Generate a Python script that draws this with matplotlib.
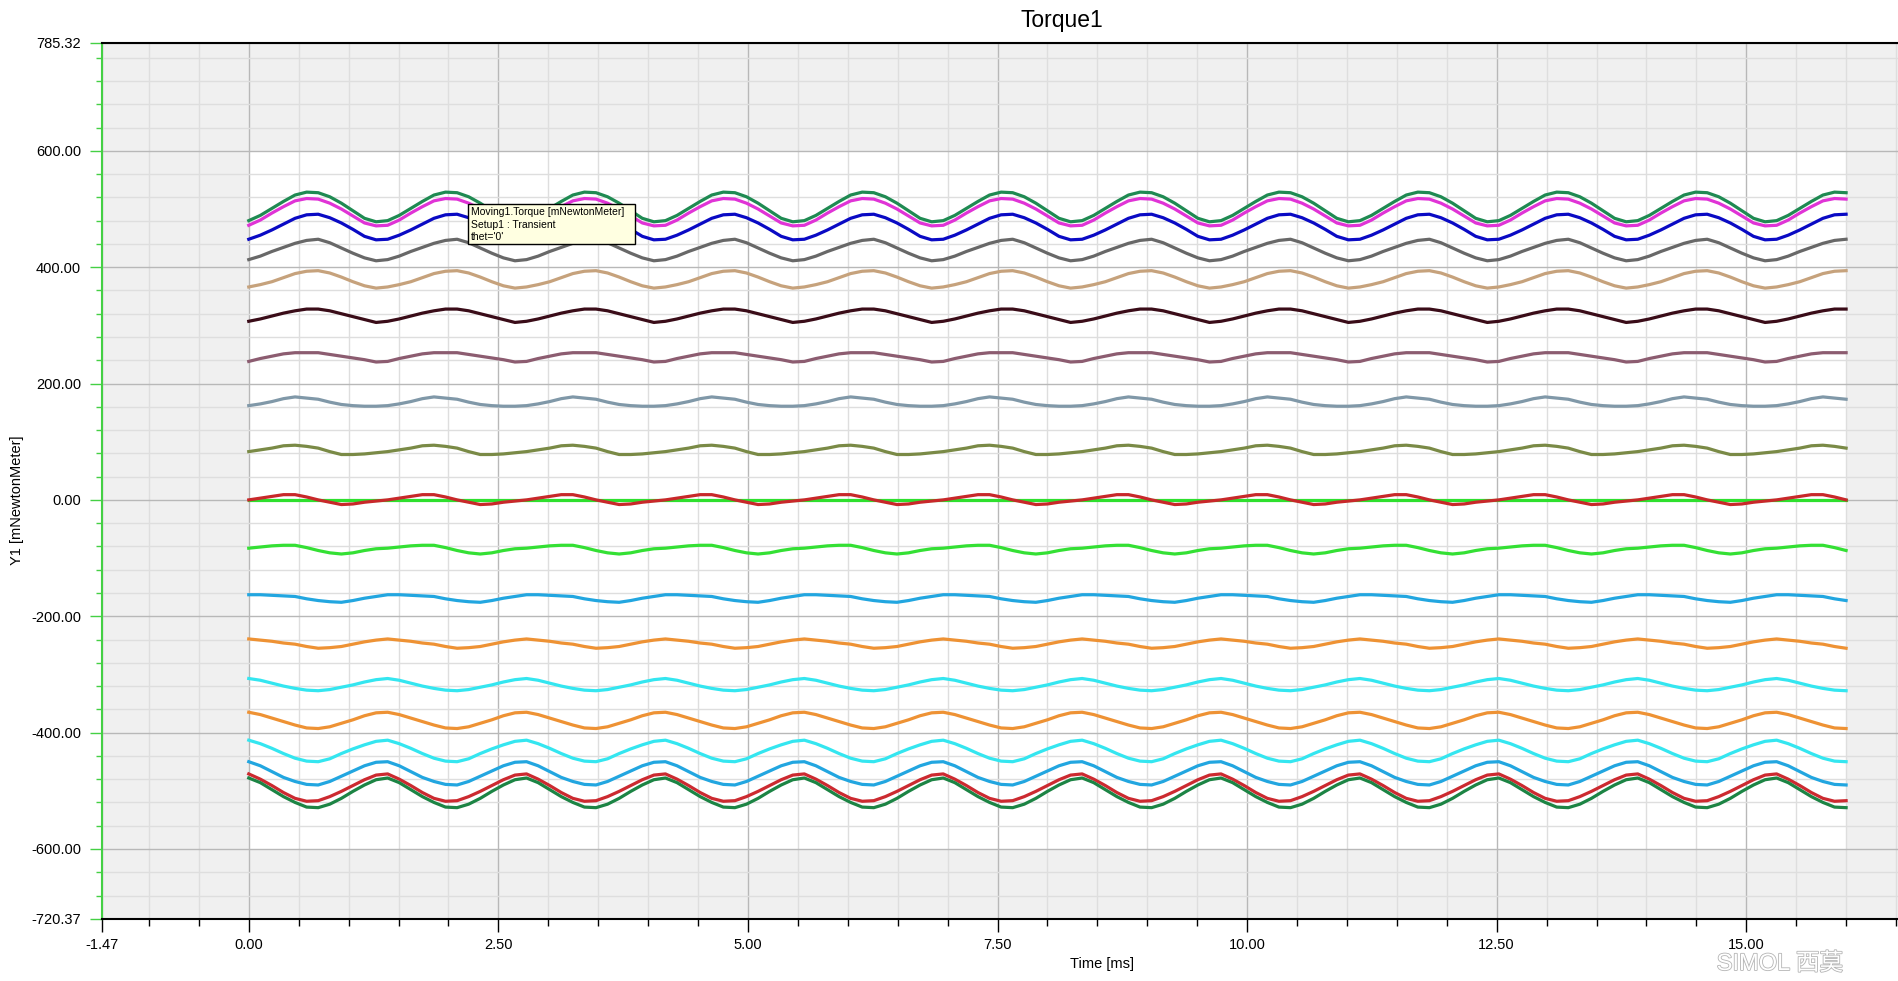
import matplotlib
matplotlib.use("Agg")
import matplotlib.pyplot as plt
import matplotlib.patheffects as pe
from matplotlib.patches import Rectangle
import numpy as np

plt.rcParams['font.family'] = ['Liberation Sans', 'Noto Sans CJK SC']

# sample times of the curves, 0 .. 16 ms
time_ms = np.linspace(0, 16, 139)

# torque values [mNewtonMeter], top curve first
curve_01 = [
    480, 489, 501, 513, 524, 529, 528, 521, 510, 497, 484, 478,
    480, 489, 501, 513, 524, 529, 528, 521, 510, 497, 484, 478,
    480, 489, 501, 513, 524, 529, 528, 521, 510, 497, 484, 478,
    480, 489, 501, 513, 524, 529, 528, 521, 510, 497, 484, 478,
    480, 489, 501, 513, 524, 529, 528, 521, 510, 497, 484, 478,
    480, 489, 501, 513, 524, 529, 528, 521, 510, 497, 484, 478,
    480, 489, 501, 513, 524, 529, 528, 521, 510, 497, 484, 478,
    480, 489, 501, 513, 524, 529, 528, 521, 510, 497, 484, 478,
    480, 489, 501, 513, 524, 529, 528, 521, 510, 497, 484, 478,
    480, 489, 501, 513, 524, 529, 528, 521, 510, 497, 484, 478,
    480, 489, 501, 513, 524, 529, 528, 521, 510, 497, 484, 478,
    480, 489, 501, 513, 524, 529, 528]
curve_02 = [
    472, 481, 493, 504, 514, 518, 517, 510, 500, 488, 476, 471,
    472, 481, 493, 504, 514, 518, 517, 510, 500, 488, 476, 471,
    472, 481, 493, 504, 514, 518, 517, 510, 500, 488, 476, 471,
    472, 481, 493, 504, 514, 518, 517, 510, 500, 488, 476, 471,
    472, 481, 493, 504, 514, 518, 517, 510, 500, 488, 476, 471,
    472, 481, 493, 504, 514, 518, 517, 510, 500, 488, 476, 471,
    472, 481, 493, 504, 514, 518, 517, 510, 500, 488, 476, 471,
    472, 481, 493, 504, 514, 518, 517, 510, 500, 488, 476, 471,
    472, 481, 493, 504, 514, 518, 517, 510, 500, 488, 476, 471,
    472, 481, 493, 504, 514, 518, 517, 510, 500, 488, 476, 471,
    472, 481, 493, 504, 514, 518, 517, 510, 500, 488, 476, 471,
    472, 481, 493, 504, 514, 518, 517]
curve_03 = [
    448, 455, 464, 474, 484, 490, 491, 485, 476, 465, 453, 447,
    448, 455, 464, 474, 484, 490, 491, 485, 476, 465, 453, 447,
    448, 455, 464, 474, 484, 490, 491, 485, 476, 465, 453, 447,
    448, 455, 464, 474, 484, 490, 491, 485, 476, 465, 453, 447,
    448, 455, 464, 474, 484, 490, 491, 485, 476, 465, 453, 447,
    448, 455, 464, 474, 484, 490, 491, 485, 476, 465, 453, 447,
    448, 455, 464, 474, 484, 490, 491, 485, 476, 465, 453, 447,
    448, 455, 464, 474, 484, 490, 491, 485, 476, 465, 453, 447,
    448, 455, 464, 474, 484, 490, 491, 485, 476, 465, 453, 447,
    448, 455, 464, 474, 484, 490, 491, 485, 476, 465, 453, 447,
    448, 455, 464, 474, 484, 490, 491, 485, 476, 465, 453, 447,
    448, 455, 464, 474, 484, 490, 491]
curve_04 = [
    413, 419, 427, 434, 441, 446, 448, 442, 433, 424, 416, 411,
    413, 419, 427, 434, 441, 446, 448, 442, 433, 424, 416, 411,
    413, 419, 427, 434, 441, 446, 448, 442, 433, 424, 416, 411,
    413, 419, 427, 434, 441, 446, 448, 442, 433, 424, 416, 411,
    413, 419, 427, 434, 441, 446, 448, 442, 433, 424, 416, 411,
    413, 419, 427, 434, 441, 446, 448, 442, 433, 424, 416, 411,
    413, 419, 427, 434, 441, 446, 448, 442, 433, 424, 416, 411,
    413, 419, 427, 434, 441, 446, 448, 442, 433, 424, 416, 411,
    413, 419, 427, 434, 441, 446, 448, 442, 433, 424, 416, 411,
    413, 419, 427, 434, 441, 446, 448, 442, 433, 424, 416, 411,
    413, 419, 427, 434, 441, 446, 448, 442, 433, 424, 416, 411,
    413, 419, 427, 434, 441, 446, 448]
curve_05 = [
    366, 370, 375, 382, 389, 393, 394, 390, 383, 375, 368, 364,
    366, 370, 375, 382, 389, 393, 394, 390, 383, 375, 368, 364,
    366, 370, 375, 382, 389, 393, 394, 390, 383, 375, 368, 364,
    366, 370, 375, 382, 389, 393, 394, 390, 383, 375, 368, 364,
    366, 370, 375, 382, 389, 393, 394, 390, 383, 375, 368, 364,
    366, 370, 375, 382, 389, 393, 394, 390, 383, 375, 368, 364,
    366, 370, 375, 382, 389, 393, 394, 390, 383, 375, 368, 364,
    366, 370, 375, 382, 389, 393, 394, 390, 383, 375, 368, 364,
    366, 370, 375, 382, 389, 393, 394, 390, 383, 375, 368, 364,
    366, 370, 375, 382, 389, 393, 394, 390, 383, 375, 368, 364,
    366, 370, 375, 382, 389, 393, 394, 390, 383, 375, 368, 364,
    366, 370, 375, 382, 389, 393, 394]
curve_06 = [
    307, 311, 316, 321, 325, 328, 328, 325, 320, 315, 310, 305,
    307, 311, 316, 321, 325, 328, 328, 325, 320, 315, 310, 305,
    307, 311, 316, 321, 325, 328, 328, 325, 320, 315, 310, 305,
    307, 311, 316, 321, 325, 328, 328, 325, 320, 315, 310, 305,
    307, 311, 316, 321, 325, 328, 328, 325, 320, 315, 310, 305,
    307, 311, 316, 321, 325, 328, 328, 325, 320, 315, 310, 305,
    307, 311, 316, 321, 325, 328, 328, 325, 320, 315, 310, 305,
    307, 311, 316, 321, 325, 328, 328, 325, 320, 315, 310, 305,
    307, 311, 316, 321, 325, 328, 328, 325, 320, 315, 310, 305,
    307, 311, 316, 321, 325, 328, 328, 325, 320, 315, 310, 305,
    307, 311, 316, 321, 325, 328, 328, 325, 320, 315, 310, 305,
    307, 311, 316, 321, 325, 328, 328]
curve_07 = [
    238, 243, 247, 251, 253, 253, 253, 250, 247, 244, 241, 237,
    238, 243, 247, 251, 253, 253, 253, 250, 247, 244, 241, 237,
    238, 243, 247, 251, 253, 253, 253, 250, 247, 244, 241, 237,
    238, 243, 247, 251, 253, 253, 253, 250, 247, 244, 241, 237,
    238, 243, 247, 251, 253, 253, 253, 250, 247, 244, 241, 237,
    238, 243, 247, 251, 253, 253, 253, 250, 247, 244, 241, 237,
    238, 243, 247, 251, 253, 253, 253, 250, 247, 244, 241, 237,
    238, 243, 247, 251, 253, 253, 253, 250, 247, 244, 241, 237,
    238, 243, 247, 251, 253, 253, 253, 250, 247, 244, 241, 237,
    238, 243, 247, 251, 253, 253, 253, 250, 247, 244, 241, 237,
    238, 243, 247, 251, 253, 253, 253, 250, 247, 244, 241, 237,
    238, 243, 247, 251, 253, 253, 253]
curve_08 = [
    162, 165, 169, 174, 177, 175, 173, 168, 164, 162, 161, 161,
    162, 165, 169, 174, 177, 175, 173, 168, 164, 162, 161, 161,
    162, 165, 169, 174, 177, 175, 173, 168, 164, 162, 161, 161,
    162, 165, 169, 174, 177, 175, 173, 168, 164, 162, 161, 161,
    162, 165, 169, 174, 177, 175, 173, 168, 164, 162, 161, 161,
    162, 165, 169, 174, 177, 175, 173, 168, 164, 162, 161, 161,
    162, 165, 169, 174, 177, 175, 173, 168, 164, 162, 161, 161,
    162, 165, 169, 174, 177, 175, 173, 168, 164, 162, 161, 161,
    162, 165, 169, 174, 177, 175, 173, 168, 164, 162, 161, 161,
    162, 165, 169, 174, 177, 175, 173, 168, 164, 162, 161, 161,
    162, 165, 169, 174, 177, 175, 173, 168, 164, 162, 161, 161,
    162, 165, 169, 174, 177, 175, 173]
curve_09 = [
    83, 86, 89, 93, 94, 92, 89, 83, 78, 78, 79, 81,
    83, 86, 89, 93, 94, 92, 89, 83, 78, 78, 79, 81,
    83, 86, 89, 93, 94, 92, 89, 83, 78, 78, 79, 81,
    83, 86, 89, 93, 94, 92, 89, 83, 78, 78, 79, 81,
    83, 86, 89, 93, 94, 92, 89, 83, 78, 78, 79, 81,
    83, 86, 89, 93, 94, 92, 89, 83, 78, 78, 79, 81,
    83, 86, 89, 93, 94, 92, 89, 83, 78, 78, 79, 81,
    83, 86, 89, 93, 94, 92, 89, 83, 78, 78, 79, 81,
    83, 86, 89, 93, 94, 92, 89, 83, 78, 78, 79, 81,
    83, 86, 89, 93, 94, 92, 89, 83, 78, 78, 79, 81,
    83, 86, 89, 93, 94, 92, 89, 83, 78, 78, 79, 81,
    83, 86, 89, 93, 94, 92, 89]
curve_10 = [
    0, 0, 0, 0, 0, 0, 0, 0, 0, 0, 0, 0,
    0, 0, 0, 0, 0, 0, 0, 0, 0, 0, 0, 0,
    0, 0, 0, 0, 0, 0, 0, 0, 0, 0, 0, 0,
    0, 0, 0, 0, 0, 0, 0, 0, 0, 0, 0, 0,
    0, 0, 0, 0, 0, 0, 0, 0, 0, 0, 0, 0,
    0, 0, 0, 0, 0, 0, 0, 0, 0, 0, 0, 0,
    0, 0, 0, 0, 0, 0, 0, 0, 0, 0, 0, 0,
    0, 0, 0, 0, 0, 0, 0, 0, 0, 0, 0, 0,
    0, 0, 0, 0, 0, 0, 0, 0, 0, 0, 0, 0,
    0, 0, 0, 0, 0, 0, 0, 0, 0, 0, 0, 0,
    0, 0, 0, 0, 0, 0, 0, 0, 0, 0, 0, 0,
    0, 0, 0, 0, 0, 0, 0]
curve_11 = [
    0, 3, 6, 9, 9, 5, 0, -4, -8, -7, -4, -2,
    0, 3, 6, 9, 9, 5, 0, -4, -8, -7, -4, -2,
    0, 3, 6, 9, 9, 5, 0, -4, -8, -7, -4, -2,
    0, 3, 6, 9, 9, 5, 0, -4, -8, -7, -4, -2,
    0, 3, 6, 9, 9, 5, 0, -4, -8, -7, -4, -2,
    0, 3, 6, 9, 9, 5, 0, -4, -8, -7, -4, -2,
    0, 3, 6, 9, 9, 5, 0, -4, -8, -7, -4, -2,
    0, 3, 6, 9, 9, 5, 0, -4, -8, -7, -4, -2,
    0, 3, 6, 9, 9, 5, 0, -4, -8, -7, -4, -2,
    0, 3, 6, 9, 9, 5, 0, -4, -8, -7, -4, -2,
    0, 3, 6, 9, 9, 5, 0, -4, -8, -7, -4, -2,
    0, 3, 6, 9, 9, 5, 0]
curve_12 = [
    -83, -81, -79, -78, -78, -82, -87, -91, -93, -91, -87, -84,
    -83, -81, -79, -78, -78, -82, -87, -91, -93, -91, -87, -84,
    -83, -81, -79, -78, -78, -82, -87, -91, -93, -91, -87, -84,
    -83, -81, -79, -78, -78, -82, -87, -91, -93, -91, -87, -84,
    -83, -81, -79, -78, -78, -82, -87, -91, -93, -91, -87, -84,
    -83, -81, -79, -78, -78, -82, -87, -91, -93, -91, -87, -84,
    -83, -81, -79, -78, -78, -82, -87, -91, -93, -91, -87, -84,
    -83, -81, -79, -78, -78, -82, -87, -91, -93, -91, -87, -84,
    -83, -81, -79, -78, -78, -82, -87, -91, -93, -91, -87, -84,
    -83, -81, -79, -78, -78, -82, -87, -91, -93, -91, -87, -84,
    -83, -81, -79, -78, -78, -82, -87, -91, -93, -91, -87, -84,
    -83, -81, -79, -78, -78, -82, -87]
curve_13 = [
    -163, -163, -164, -165, -166, -170, -173, -175, -176, -173, -169, -166,
    -163, -163, -164, -165, -166, -170, -173, -175, -176, -173, -169, -166,
    -163, -163, -164, -165, -166, -170, -173, -175, -176, -173, -169, -166,
    -163, -163, -164, -165, -166, -170, -173, -175, -176, -173, -169, -166,
    -163, -163, -164, -165, -166, -170, -173, -175, -176, -173, -169, -166,
    -163, -163, -164, -165, -166, -170, -173, -175, -176, -173, -169, -166,
    -163, -163, -164, -165, -166, -170, -173, -175, -176, -173, -169, -166,
    -163, -163, -164, -165, -166, -170, -173, -175, -176, -173, -169, -166,
    -163, -163, -164, -165, -166, -170, -173, -175, -176, -173, -169, -166,
    -163, -163, -164, -165, -166, -170, -173, -175, -176, -173, -169, -166,
    -163, -163, -164, -165, -166, -170, -173, -175, -176, -173, -169, -166,
    -163, -163, -164, -165, -166, -170, -173]
curve_14 = [
    -239, -241, -243, -246, -248, -252, -255, -254, -252, -248, -244, -241,
    -239, -241, -243, -246, -248, -252, -255, -254, -252, -248, -244, -241,
    -239, -241, -243, -246, -248, -252, -255, -254, -252, -248, -244, -241,
    -239, -241, -243, -246, -248, -252, -255, -254, -252, -248, -244, -241,
    -239, -241, -243, -246, -248, -252, -255, -254, -252, -248, -244, -241,
    -239, -241, -243, -246, -248, -252, -255, -254, -252, -248, -244, -241,
    -239, -241, -243, -246, -248, -252, -255, -254, -252, -248, -244, -241,
    -239, -241, -243, -246, -248, -252, -255, -254, -252, -248, -244, -241,
    -239, -241, -243, -246, -248, -252, -255, -254, -252, -248, -244, -241,
    -239, -241, -243, -246, -248, -252, -255, -254, -252, -248, -244, -241,
    -239, -241, -243, -246, -248, -252, -255, -254, -252, -248, -244, -241,
    -239, -241, -243, -246, -248, -252, -255]
curve_15 = [
    -307, -310, -315, -320, -324, -327, -328, -326, -322, -318, -313, -309,
    -307, -310, -315, -320, -324, -327, -328, -326, -322, -318, -313, -309,
    -307, -310, -315, -320, -324, -327, -328, -326, -322, -318, -313, -309,
    -307, -310, -315, -320, -324, -327, -328, -326, -322, -318, -313, -309,
    -307, -310, -315, -320, -324, -327, -328, -326, -322, -318, -313, -309,
    -307, -310, -315, -320, -324, -327, -328, -326, -322, -318, -313, -309,
    -307, -310, -315, -320, -324, -327, -328, -326, -322, -318, -313, -309,
    -307, -310, -315, -320, -324, -327, -328, -326, -322, -318, -313, -309,
    -307, -310, -315, -320, -324, -327, -328, -326, -322, -318, -313, -309,
    -307, -310, -315, -320, -324, -327, -328, -326, -322, -318, -313, -309,
    -307, -310, -315, -320, -324, -327, -328, -326, -322, -318, -313, -309,
    -307, -310, -315, -320, -324, -327, -328]
curve_16 = [
    -365, -369, -375, -381, -387, -392, -393, -390, -384, -378, -371, -366,
    -365, -369, -375, -381, -387, -392, -393, -390, -384, -378, -371, -366,
    -365, -369, -375, -381, -387, -392, -393, -390, -384, -378, -371, -366,
    -365, -369, -375, -381, -387, -392, -393, -390, -384, -378, -371, -366,
    -365, -369, -375, -381, -387, -392, -393, -390, -384, -378, -371, -366,
    -365, -369, -375, -381, -387, -392, -393, -390, -384, -378, -371, -366,
    -365, -369, -375, -381, -387, -392, -393, -390, -384, -378, -371, -366,
    -365, -369, -375, -381, -387, -392, -393, -390, -384, -378, -371, -366,
    -365, -369, -375, -381, -387, -392, -393, -390, -384, -378, -371, -366,
    -365, -369, -375, -381, -387, -392, -393, -390, -384, -378, -371, -366,
    -365, -369, -375, -381, -387, -392, -393, -390, -384, -378, -371, -366,
    -365, -369, -375, -381, -387, -392, -393]
curve_17 = [
    -413, -419, -427, -436, -444, -449, -450, -445, -436, -428, -421, -415,
    -413, -419, -427, -436, -444, -449, -450, -445, -436, -428, -421, -415,
    -413, -419, -427, -436, -444, -449, -450, -445, -436, -428, -421, -415,
    -413, -419, -427, -436, -444, -449, -450, -445, -436, -428, -421, -415,
    -413, -419, -427, -436, -444, -449, -450, -445, -436, -428, -421, -415,
    -413, -419, -427, -436, -444, -449, -450, -445, -436, -428, -421, -415,
    -413, -419, -427, -436, -444, -449, -450, -445, -436, -428, -421, -415,
    -413, -419, -427, -436, -444, -449, -450, -445, -436, -428, -421, -415,
    -413, -419, -427, -436, -444, -449, -450, -445, -436, -428, -421, -415,
    -413, -419, -427, -436, -444, -449, -450, -445, -436, -428, -421, -415,
    -413, -419, -427, -436, -444, -449, -450, -445, -436, -428, -421, -415,
    -413, -419, -427, -436, -444, -449, -450]
curve_18 = [
    -450, -457, -467, -477, -484, -489, -490, -484, -475, -466, -457, -451,
    -450, -457, -467, -477, -484, -489, -490, -484, -475, -466, -457, -451,
    -450, -457, -467, -477, -484, -489, -490, -484, -475, -466, -457, -451,
    -450, -457, -467, -477, -484, -489, -490, -484, -475, -466, -457, -451,
    -450, -457, -467, -477, -484, -489, -490, -484, -475, -466, -457, -451,
    -450, -457, -467, -477, -484, -489, -490, -484, -475, -466, -457, -451,
    -450, -457, -467, -477, -484, -489, -490, -484, -475, -466, -457, -451,
    -450, -457, -467, -477, -484, -489, -490, -484, -475, -466, -457, -451,
    -450, -457, -467, -477, -484, -489, -490, -484, -475, -466, -457, -451,
    -450, -457, -467, -477, -484, -489, -490, -484, -475, -466, -457, -451,
    -450, -457, -467, -477, -484, -489, -490, -484, -475, -466, -457, -451,
    -450, -457, -467, -477, -484, -489, -490]
curve_19 = [
    -471, -480, -491, -503, -513, -518, -517, -510, -501, -491, -481, -473,
    -471, -480, -491, -503, -513, -518, -517, -510, -501, -491, -481, -473,
    -471, -480, -491, -503, -513, -518, -517, -510, -501, -491, -481, -473,
    -471, -480, -491, -503, -513, -518, -517, -510, -501, -491, -481, -473,
    -471, -480, -491, -503, -513, -518, -517, -510, -501, -491, -481, -473,
    -471, -480, -491, -503, -513, -518, -517, -510, -501, -491, -481, -473,
    -471, -480, -491, -503, -513, -518, -517, -510, -501, -491, -481, -473,
    -471, -480, -491, -503, -513, -518, -517, -510, -501, -491, -481, -473,
    -471, -480, -491, -503, -513, -518, -517, -510, -501, -491, -481, -473,
    -471, -480, -491, -503, -513, -518, -517, -510, -501, -491, -481, -473,
    -471, -480, -491, -503, -513, -518, -517, -510, -501, -491, -481, -473,
    -471, -480, -491, -503, -513, -518, -517]
curve_20 = [
    -478, -486, -498, -510, -520, -528, -529, -523, -513, -501, -490, -481,
    -478, -486, -498, -510, -520, -528, -529, -523, -513, -501, -490, -481,
    -478, -486, -498, -510, -520, -528, -529, -523, -513, -501, -490, -481,
    -478, -486, -498, -510, -520, -528, -529, -523, -513, -501, -490, -481,
    -478, -486, -498, -510, -520, -528, -529, -523, -513, -501, -490, -481,
    -478, -486, -498, -510, -520, -528, -529, -523, -513, -501, -490, -481,
    -478, -486, -498, -510, -520, -528, -529, -523, -513, -501, -490, -481,
    -478, -486, -498, -510, -520, -528, -529, -523, -513, -501, -490, -481,
    -478, -486, -498, -510, -520, -528, -529, -523, -513, -501, -490, -481,
    -478, -486, -498, -510, -520, -528, -529, -523, -513, -501, -490, -481,
    -478, -486, -498, -510, -520, -528, -529, -523, -513, -501, -490, -481,
    -478, -486, -498, -510, -520, -528, -529]

curves = [curve_01, curve_02, curve_03, curve_04, curve_05, curve_06, curve_07,
          curve_08, curve_09, curve_10, curve_11, curve_12, curve_13, curve_14,
          curve_15, curve_16, curve_17, curve_18, curve_19, curve_20]
colors = ['#1f8a52', '#e033d6', '#0a0ac4', '#686868', '#c6a27c', '#3a0c18',
          '#8c5c70', '#8098a8', '#7a8a46', '#2ee02e', '#c8282a', '#34e034',
          '#22a6e0', '#ee9234', '#34e6f0', '#ee9234', '#34e6f0', '#22a6e0',
          '#cc2a30', '#1c8444']

y_ticks = [785.32, 600, 400, 200, 0, -200, -400, -600, -720.37]
x_ticks = [-1.47, 0, 2.5, 5, 7.5, 10, 12.5, 15]

W, H = 1899, 981
fig = plt.figure(figsize=(W / 100, H / 100), dpi=100)
ax = fig.add_axes([102 / W, 1 - 919 / H, (W - 102) / W, 876 / H])
ax.set_facecolor('#f0f0f0')
ax.add_patch(Rectangle((0, -600), 16, 1200, facecolor='white', edgecolor='none', zorder=0.5))

for y, c in zip(curves, colors):
    ax.plot(time_ms, y, color=c, lw=2.3, zorder=2, solid_joinstyle='round')

ax.set_xlim(-1.47, 16.53)
ax.set_ylim(-720.37, 785.32)
ax.set_xticks(x_ticks)
ax.set_xticklabels([f"{v:.2f}" for v in x_ticks])
ax.set_xticks(np.arange(-1.0, 16.6, 0.5), minor=True)
ax.set_yticks(y_ticks)
ax.set_yticklabels([f"{v:.2f}" for v in y_ticks])
ax.set_yticks(np.arange(-680, 785, 40), minor=True)

ax.grid(which='major', color='#b8b8b8', lw=1, zorder=1)
ax.grid(which='minor', color='#dedede', lw=1, zorder=0.8)

green = '#44d044'
ax.tick_params(axis='x', which='major', length=9, width=1, pad=5, labelsize=10.5)
ax.tick_params(axis='x', which='minor', length=5, width=1)
ax.tick_params(axis='y', which='major', length=9, width=1, color=green, pad=6, labelsize=10.5)
ax.tick_params(axis='y', which='minor', length=4, width=1, color=green)
ax.spines['left'].set_color(green)
ax.spines['left'].set_linewidth(1.5)
ax.spines['top'].set_linewidth(1.5)
ax.spines['bottom'].set_linewidth(1.5)
ax.spines['right'].set_visible(False)

fig.text(1062 / W, 1 - 21 / H, 'Torque1', ha='center', va='center', fontsize=16.5)
fig.text(1102 / W, 1 - 964 / H, 'Time [ms]', ha='center', va='center', fontsize=10.5)
fig.text(17 / W, 1 - 500 / H, 'Y1 [mNewtonMeter]', ha='center', va='center',
         rotation=90, fontsize=10.5)

# tooltip box
fig.patches.append(Rectangle((468 / W, 1 - 244 / H), 167 / W, 40 / H, transform=fig.transFigure,
                             facecolor='#ffffe1', edgecolor='black', lw=1, zorder=10))
for i, s in enumerate(['Moving1.Torque [mNewtonMeter]', 'Setup1 : Transient', "thet='0'"]):
    fig.text(471 / W, 1 - (212 + 12.5 * i) / H, s, ha='left', va='center', fontsize=7.5, zorder=11)

# watermark
fig.text(1780 / W, 1 - 964 / H, 'SIMOL 西莫', ha='center', va='center', fontsize=17,
         color='white', path_effects=[pe.withStroke(linewidth=1.2, foreground='#b4b4b4')])

fig.savefig('out.png', dpi=100)
